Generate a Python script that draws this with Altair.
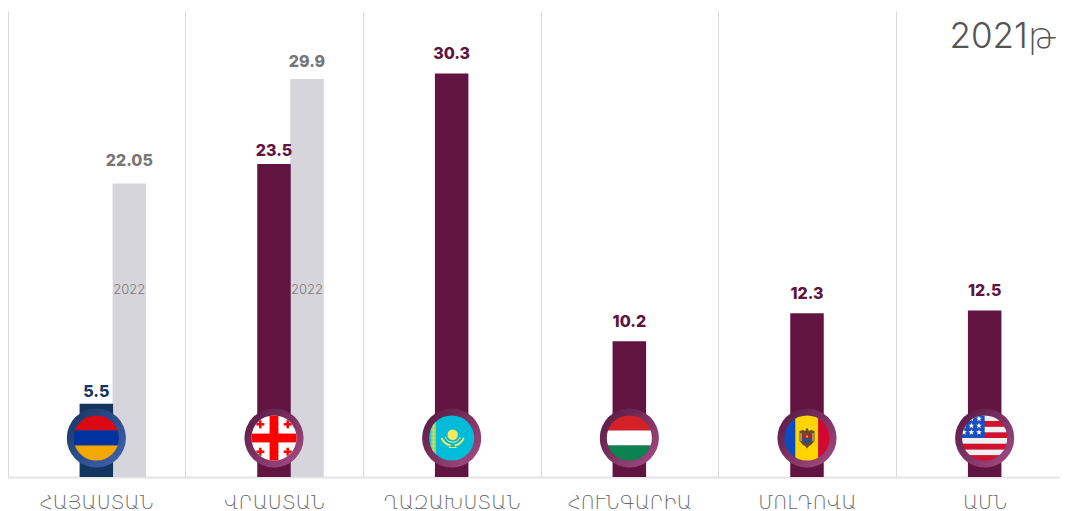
import base64
import math
import altair as alt
import pandas as pd

countries = ["ՀԱՅԱՍՏԱՆ", "ՎՐԱՍՏԱՆ", "ՂԱԶԱԽՍՏԱՆ", "ՀՈՒՆԳԱՐԻԱ", "ՄՈԼԴՈՎԱ", "ԱՄՆ"]
values_2021 = [5.5, 23.5, 30.3, 10.2, 12.3, 12.5]
grey_countries = ["ՀԱՅԱՍՏԱՆ", "ՎՐԱՍՏԱՆ"]
values_2022 = [22.05, 29.9]
bar_colors = ["#13355f", "#611440", "#611440", "#611440", "#611440", "#611440"]
label_colors = ["#13355f", "#6a0f4a", "#6a0f4a", "#6a0f4a", "#6a0f4a", "#6a0f4a"]
GREY_BAR = "#d6d5dc"
GREY_TEXT = "#777777"
FONT = "Inter"
ARM_FONT = "DejaVu Sans"


def ring(inner, c1, c2):
    return f'''<svg xmlns="http://www.w3.org/2000/svg" viewBox="-30 -30 60 60" width="240" height="240">
<defs><linearGradient id="g" x1="0.1" y1="0.1" x2="0.9" y2="0.9"><stop offset="0" stop-color="{c1}"/><stop offset="1" stop-color="{c2}"/></linearGradient>
<clipPath id="c"><circle r="22.6"/></clipPath></defs>
<circle r="29.6" fill="url(#g)"/><g clip-path="url(#c)">{inner}</g></svg>'''


def r(x, y, w, h, f):
    return f'<rect x="{x}" y="{y}" width="{w}" height="{h}" fill="{f}"/>'


def star(cx, cy, s, f="#ffffff"):
    pts = []
    for i in range(10):
        a = -math.pi / 2 + i * math.pi / 5
        q = s if i % 2 == 0 else s * 0.42
        pts.append(f"{cx + q * math.cos(a):.2f},{cy + q * math.sin(a):.2f}")
    return f'<polygon points="{" ".join(pts)}" fill="{f}"/>'


def geo_cross(cx, cy):
    return r(cx - 4, cy - 1.25, 8, 2.5, "#ff0000") + r(cx - 1.25, cy - 4, 2.5, 8, "#ff0000")


armenia = r(-23, -23, 46, 15.5, "#d90812") + r(-23, -7.5, 46, 15, "#0033a0") + r(-23, 7.5, 46, 16, "#f2a800")
georgia = (r(-23, -23, 46, 46, "#ffffff") + r(-4.4, -23, 8.8, 46, "#ff0000") + r(-23, -4.4, 46, 8.8, "#ff0000")
           + geo_cross(-13.7, -13.7) + geo_cross(13.7, -13.7) + geo_cross(-13.7, 13.7) + geo_cross(13.7, 13.7))
kazakh_band = "".join(
    f'<path d="M-18.2 {y - 2.2} L-16 {y} L-18.2 {y + 2.2} L-20.4 {y} Z" fill="#c9dc5c"/>'
    for y in range(-20, 24, 4))
kazakhstan = (r(-23, -23, 46, 46, "#00bcd8") + r(-21, -23, 5.5, 46, "#6fcf9a") + kazakh_band
              + '<circle cx="1" cy="-3.3" r="5.2" fill="#ffe95c"/>'
              + '<path d="M-6.5 -1 A8 8 0 0 0 8.5 -1" fill="none" stroke="#ffe95c" stroke-width="1"/>'
              + '<path d="M-10 0 C-8 5 -4 7 -1 7.5 M12 0 C10 5 6 7 3 7.5" fill="none" stroke="#ffe95c" stroke-width="2"/>'
              + '<path d="M-3 9.5 H5" stroke="#ffe95c" stroke-width="1.2"/>')
hungary = r(-23, -23, 46, 15.5, "#d42027") + r(-23, -7.5, 46, 15, "#ffffff") + r(-23, 7.5, 46, 16, "#0a8350")
moldova = (r(-23, -23, 11.3, 46, "#0b4cc0") + r(-11.7, -23, 23, 46, "#ffd400") + r(11.3, -23, 12, 46, "#d4082f")
           + '<path d="M-7.5 -7 L-4 -8 L-2 -7 L0 -10.5 L2 -7 L4 -8 L7.5 -7 L7.5 3 L4 7 L2 8 L0 10.5 L-2 8 L-4 7 L-7.5 3 Z" fill="#6b4a2c"/>'
           + '<path d="M-7 -5 H-5 V3 H-7 Z M5 -5 H7 V3 H5 Z" fill="#a89060"/>'
           + r(-3.4, -3.5, 6.8, 3.8, "#c0202d") + '<path d="M-3.4 0.3 H3.4 V3 L0 6.5 L-3.4 3 Z" fill="#2a4a9a"/>'
           + '<circle cx="0" cy="-1.4" r="1.1" fill="#e8c040"/>')
us_stripes = "".join(
    r(-23, y, 46, 5.7, "#d4102f" if i % 2 == 0 else "#f0f0f0")
    for i, y in enumerate([17.1, 11.4, 5.7, 0, -5.7, -11.4, -17.1, -22.8]))
usa = us_stripes + r(-23, -23, 23, 23, "#1a4fc0") + "".join(
    star(x, y, 3) for x, y in [(-13.3, -19.3), (-5.7, -19.3), (-20.7, -12.3), (-13.3, -12.3), (-5.7, -12.3),
                               (-20.7, -5.7), (-13.3, -5.7), (-5.7, -5.7)])

flags = [
    ring(armenia, "#1b3a68", "#3d60ad"),
    ring(georgia, "#5c1c46", "#a04880"),
    ring(kazakhstan, "#5c1c46", "#a04880"),
    ring(hungary, "#5c1c46", "#a04880"),
    ring(moldova, "#5c1c46", "#a04880"),
    ring(usa, "#5c1c46", "#a04880"),
]
flag_urls = ["data:image/svg+xml;base64," + base64.b64encode(f.encode()).decode() for f in flags]

df = pd.DataFrame({"country": countries, "value": values_2021, "flag": flag_urls,
                   "label": [str(v) for v in values_2021]})
grey = pd.DataFrame({"country": grey_countries, "value": values_2022,
                     "label": [str(v) for v in values_2022], "year": ["2022", "2022"]})

x = alt.X("country:N", sort=countries,
          scale=alt.Scale(domain=countries, range=[-0.5, 1065.5], paddingInner=0, paddingOuter=0),
          axis=alt.Axis(title=None, grid=True, gridColor="#d9d9d9", gridWidth=1, ticks=False,
                        tickBand="extent", domainColor="#e4e4e4", domainWidth=2,
                        labelAngle=0, labelFont=ARM_FONT, labelFontSize=19, labelFontWeight=200,
                        labelColor="#666666", labelPadding=16, labelLimit=170))
y = alt.Y("value:Q", scale=alt.Scale(domain=[0, 35], nice=False), axis=None)
color = alt.Color("country:N", legend=None, sort=countries,
                  scale=alt.Scale(domain=countries, range=bar_colors))
tcolor = alt.Color("country:N", legend=None, sort=countries,
                   scale=alt.Scale(domain=countries, range=label_colors))

grey_bars = alt.Chart(grey).mark_bar(width=33.5, xOffset=33, color=GREY_BAR).encode(x=x, y=y)
bars = alt.Chart(df).mark_bar(width=33.5).encode(x=x, y=y, color=color)
images = alt.Chart(df).mark_image(width=60, height=60).encode(x=x, y=alt.value(427), url="flag:N")


def vlabel(data, names, dy, dx=0, col=None):
    base = alt.Chart(data).transform_filter(alt.FieldOneOfPredicate(field="country", oneOf=names))
    kw = dict(font=FONT, fontWeight=800, fontSize=16, dy=dy, dx=dx, baseline="middle", align="center")
    if col:
        return base.mark_text(color=col, **kw).encode(x=x, y=y, text="label:N")
    return base.mark_text(**kw).encode(x=x, y=y, text="label:N", color=tcolor)


labels = [
    vlabel(df, [countries[0]], -12),
    vlabel(df, [countries[1]], -13),
    vlabel(df, countries[2:], -19.5),
    vlabel(grey, [countries[0]], -22, 33, GREY_TEXT),
    vlabel(grey, [countries[1]], -17, 33, GREY_TEXT),
]
year_text = alt.Chart(grey).mark_text(font=FONT, fontSize=13, fontWeight=300, color="#7a7a7a",
                                      xOffset=33, baseline="middle").encode(
    x=x, y=alt.value(279), text="year:N")
title_text = alt.Chart(pd.DataFrame({"t": ["2021թ"]})).mark_text(
    font="Inter, 'DejaVu Sans'", fontSize=35, fontWeight=300, color="#555555", align="right", baseline="middle"
).encode(x=alt.value(1049), y=alt.value(26), text="t:N")

chart = alt.layer(grey_bars, bars, images, *labels, year_text, title_text).properties(
    width=1052, height=466,
    padding={"left": 0, "top": 3, "right": 0, "bottom": 37},
    autosize=alt.AutoSizeParams(type="none"),
).configure_view(stroke=None)

chart.save("out.html", embed_options={"renderer": "svg", "actions": False})
